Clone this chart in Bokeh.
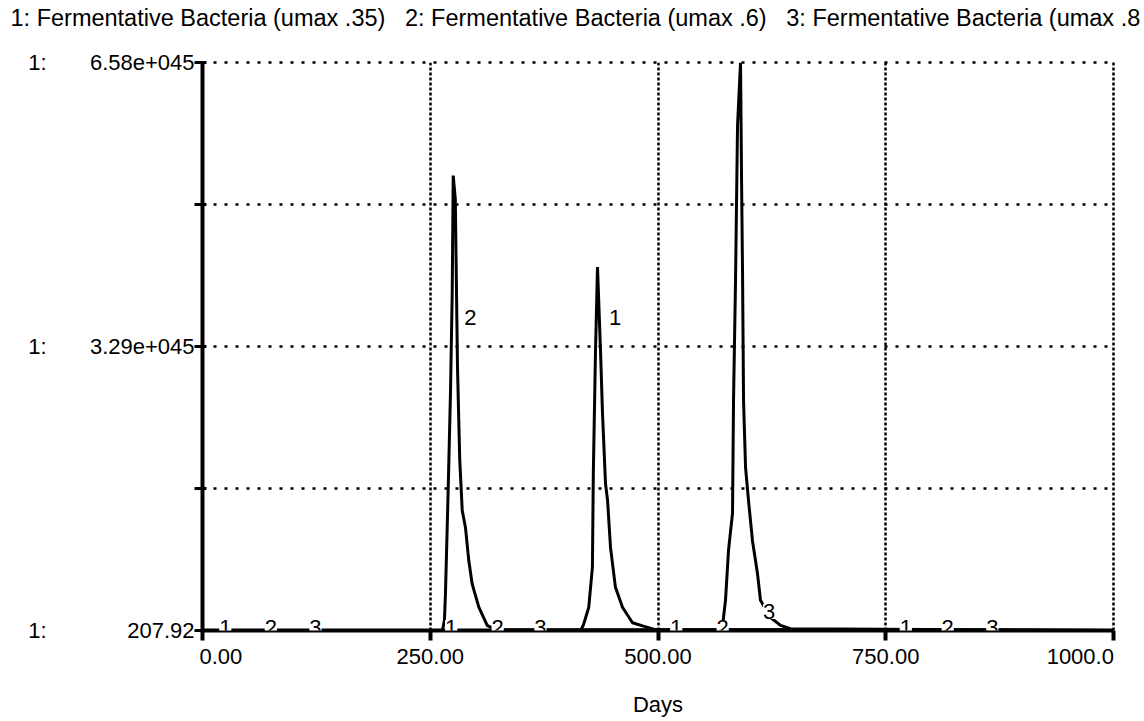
from bokeh.plotting import figure
from bokeh.models import Range1d, FixedTicker, LabelSet, ColumnDataSource, LinearAxis
from bokeh.core.properties import value
from bokeh.embed import file_html
from bokeh.resources import INLINE

# ---------------- data ----------------
NB = "\u00a0"
TITLE_PARTS = ["1: Fermentative Bacteria (umax .35)",
               "2: Fermentative Bacteria (umax .6)",
               "3: Fermentative Bacteria (umax .8"]
X_LABEL = "Days"

x_ticks = [0, 250, 500, 750, 1000]
x_tick_labels = ["0.00", "250.00", "500.00", "750.00", "1000.0"]
y_ticks = [207.92, 1.645e45, 3.29e45, 4.935e45, 6.58e45]
y_tick_labels = ["207.92", "", "3.29e+045", "", "6.58e+045"]
y_scale_tags = ["1:", "", "1:", "", "1:"]

# series 1: umax .35
s1_days = [0, 415, 418, 424, 428, 429, 431.4, 433.6, 436.9, 439.1, 442.4, 444.6,
           447.9, 453.3, 461, 472, 484, 497, 1000]
s1_vals = [207.92, 0.001e45, 0.06e45, 0.27e45, 0.73e45, 1.82e45, 3.24e45, 4.21e45,
           3.24e45, 2.51e45, 1.70e45, 1.51e45, 0.96e45, 0.50e45, 0.27e45, 0.09e45,
           0.05e45, 0.01e45, 0.001e45]

# series 2: umax .6
s2_days = [0, 263.4, 265.6, 266.7, 268.6, 270, 272.2, 274.1, 275.2, 277.5, 278.8,
           279.9, 282.4, 285.1, 288.7, 292.3, 296, 303.3, 312.5, 321.6, 1000]
s2_vals = [207.92, 0.001e45, 0.12e45, 0.43e45, 1.19e45, 1.77e45, 2.75e45, 3.90e45,
           5.27e45, 5.00e45, 3.94e45, 3.05e45, 1.97e45, 1.39e45, 1.19e45, 0.81e45,
           0.54e45, 0.27e45, 0.06e45, 0.01e45, 0.001e45]

# series 3: umax .8
s3_days = [0, 570.8, 571.9, 574.1, 577.4, 581.8, 582.9, 585.1, 587.3, 590.6, 591.7,
           592.8, 593.9, 596.1, 599.3, 603.7, 609.2, 612.5, 623.5, 634.5, 645.4, 1000]
s3_vals = [207.92, 0.001e45, 0.15e45, 0.35e45, 0.93e45, 1.36e45, 2.66e45, 4.05e45,
           5.85e45, 6.58e45, 5.25e45, 4.14e45, 2.66e45, 1.89e45, 1.51e45, 1.04e45,
           0.66e45, 0.35e45, 0.15e45, 0.06e45, 0.02e45, 0.001e45]

# curve number markers (STELLA style)
m1_days = [25, 273, 453, 520, 772]
m1_vals = [207.92, 207.92, 3.59e45, 207.92, 207.92]
m2_days = [75, 324, 294, 571, 818]
m2_vals = [207.92, 207.92, 3.59e45, 207.92, 207.92]
m3_days = [124, 371, 622, 867]
m3_vals = [207.92, 207.92, 0.185e45, 207.92]

# ---------------- figure ----------------
FONT = "Liberation Sans"

p = figure(width=1144, height=721,
           x_range=Range1d(0, 1000), y_range=Range1d(207.92, 6.58e45),
           output_backend="svg", toolbar_location=None,
           min_border_left=202, min_border_right=31,
           min_border_top=62, min_border_bottom=91)
p.outline_line_color = None
p.background_fill_color = "white"
p.border_fill_color = "white"

# header line (series list) as the plot title, pushed to the top of the page
p.title.text = (NB * 3).join(TITLE_PARTS) + "\n" + NB
p.title.align = "left"
p.title.offset = -192
p.title.vertical_align = "top"
p.title.standoff = 7
p.title.text_font = FONT
p.title.text_font_size = "23.5px"
p.title.text_font_style = "normal"
p.title.text_color = "black"

# x axis
xa = p.xaxis[0]
xa.ticker = FixedTicker(ticks=x_ticks)
x_pads = [(6, 0), (0, 0), (0, 0), (0, 0), (0, 5)]
xa.major_label_overrides = {v: NB * a + t + NB * b
                            for v, t, (a, b) in zip(x_ticks, x_tick_labels, x_pads)}
xa.major_label_text_font = FONT
xa.major_label_text_font_size = "22px"
xa.major_label_text_color = "black"
xa.major_label_standoff = 3
xa.minor_tick_line_color = None
xa.axis_line_width = 4
xa.axis_line_color = "black"
xa.major_tick_line_width = 4
xa.major_tick_line_color = "black"
xa.major_tick_out = 10
xa.major_tick_in = 0
xa.axis_label = X_LABEL
xa.axis_label_text_font = FONT
xa.axis_label_text_font_size = "22px"
xa.axis_label_text_font_style = "normal"
xa.axis_label_text_color = "black"
xa.axis_label_standoff = 20

# y axis (values)
ya = p.yaxis[0]
ya.ticker = FixedTicker(ticks=y_ticks)
ya.major_label_overrides = dict(zip(y_ticks, y_tick_labels))
ya.major_label_text_font = FONT
ya.major_label_text_font_size = "22px"
ya.major_label_text_color = "black"
ya.major_label_standoff = 0
ya.minor_tick_line_color = None
ya.axis_line_width = 4
ya.axis_line_color = "black"
ya.major_tick_line_width = 3
ya.major_tick_line_color = "black"
ya.major_tick_out = 8
ya.major_tick_in = 4

# second left axis carrying the "1:" scale tags
tag_axis = LinearAxis(ticker=FixedTicker(ticks=y_ticks),
                      major_label_overrides=dict(zip(y_ticks, y_scale_tags)),
                      axis_line_color=None, major_tick_line_color=None,
                      minor_tick_line_color=None,
                      major_tick_out=0, major_tick_in=0,
                      major_label_standoff=40,
                      major_label_text_font=FONT,
                      major_label_text_font_size="22px",
                      major_label_text_color="black")
p.add_layout(tag_axis, "left")

# dotted top and right borders
top_border = LinearAxis(ticker=FixedTicker(ticks=[]), axis_line_color="black",
                        axis_line_width=2.5, axis_line_dash="3 8",
                        major_tick_line_color=None, minor_tick_line_color=None,
                        major_label_standoff=0)
p.add_layout(top_border, "above")
right_border = LinearAxis(ticker=FixedTicker(ticks=[]), axis_line_color="black",
                          axis_line_width=2.5, axis_line_dash="3 2",
                          major_tick_line_color=None, minor_tick_line_color=None,
                          major_label_standoff=0)
p.add_layout(right_border, "right")

# grids (dotted)
p.xgrid.ticker = FixedTicker(ticks=x_ticks)
p.ygrid.ticker = FixedTicker(ticks=y_ticks)
p.xgrid.grid_line_color = "black"
p.xgrid.grid_line_width = 2.5
p.xgrid.grid_line_dash = "3 2"
p.ygrid.grid_line_color = "black"
p.ygrid.grid_line_width = 2.5
p.ygrid.grid_line_dash = "3 8"

# series
for d, v in ((s1_days, s1_vals), (s2_days, s2_vals), (s3_days, s3_vals)):
    p.line(d, v, line_color="black", line_width=3)

# curve number markers
mk_x = m1_days + m2_days + m3_days
mk_y = m1_vals + m2_vals + m3_vals
mk_t = ["1"] * len(m1_days) + ["2"] * len(m2_days) + ["3"] * len(m3_days)
mk_src = ColumnDataSource(dict(x=mk_x, y=mk_y, t=mk_t))
p.add_layout(LabelSet(x="x", y="y", text="t", source=mk_src,
                      text_font=value(FONT), text_font_size=value("22px"),
                      text_color="black", text_align="center",
                      text_baseline="middle", y_offset=3,
                      background_fill_color="white"))

open("out.html", "w").write(file_html(p, INLINE))
